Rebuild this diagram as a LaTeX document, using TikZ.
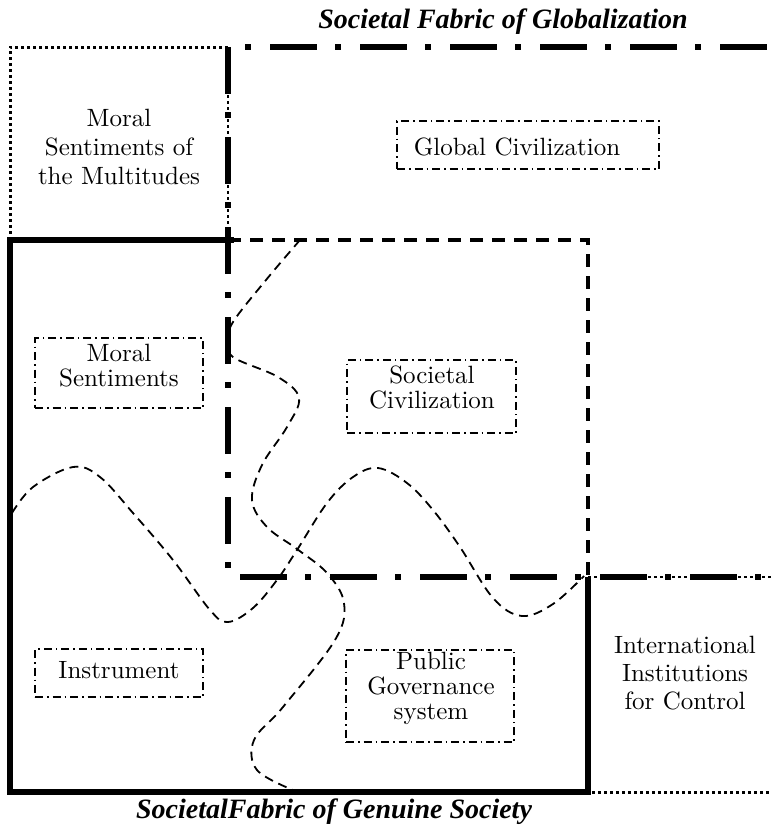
\documentclass[tikz,border=0pt]{standalone}
\usepackage{fontspec}
\newfontfamily\titlefont{Liberation Serif}
\newfontfamily\lblfont{lmroman10-regular}[Extension=.otf]
\begin{document}
\begin{tikzpicture}[x=1pt,y=-1pt,
  lbl/.style={font=\lblfont\fontsize{25}{25}\selectfont, align=center, inner sep=0pt},
  ttl/.style={font=\titlefont\bfseries\itshape\fontsize{28}{30}\selectfont, inner sep=0pt, anchor=base},
  boxdd/.style={draw, line width=1.2pt, dash pattern=on 8pt off 4pt on 1.5pt off 4pt, inner sep=0pt},
  globline/.style={line width=6pt, dash pattern=on 47pt off 18pt on 6pt off 19pt},
  thindash/.style={line width=1.3pt, dash pattern=on 3pt off 3pt},
  solidthick/.style={line width=5.5pt, line join=miter},
  dotline/.style={line width=3pt, dash pattern=on 3pt off 3pt},
  sqdash/.style={line width=4pt, dash pattern=on 13pt off 9pt},
  wave/.style={line width=1.8pt, dash pattern=on 9pt off 6pt}]
\useasboundingbox (0,0) rectangle (771,828);

% named corner points
\coordinate (tl) at (10,47);
\coordinate (gtl) at (228,47);
\coordinate (gtr) at (771,47);
\coordinate (gbl) at (228,577);
\coordinate (gbr) at (771,577);
\coordinate (sqtl) at (228,240);
\coordinate (sqtr) at (588,240);
\coordinate (sqbr) at (588,577);
\coordinate (ml) at (10,240);
\coordinate (mlx) at (234,240);
\coordinate (bl) at (10,792);
\coordinate (br) at (588,792);
\coordinate (brx) at (592,792);
\coordinate (bre) at (771,792);

% wavy dashed curves
\draw[wave] plot[smooth, tension=0.6] coordinates {(300,240) (266,280) (233,322) (229,340) (233,357) (278,377) (299,398) (287,427) (262,465) (252,500) (267,527) (297,549) (327,573) (344,603) (335,640) (283,707) (254,740) (257,770) (293,790)};
\draw[wave] plot[smooth, tension=0.6] coordinates {(12,513) (33,487) (73,467) (100,477) (133,513) (173,560) (210,610) (228,622) (253,608) (277,580) (297,550) (327,503) (353,477) (378,468) (407,483) (433,510) (460,547) (493,598) (522,616) (553,604) (584,576)};

% dotted frame of the multitudes
\draw[dotline] (gtl) -- (tl) -- (ml);
% solid frame of genuine society
\draw[solidthick] (mlx) -- (ml) -- (bl) -- (br) -- (sqbr);
% dashed square
\draw[sqdash] (sqtl) -- (sqtr) -- (sqbr);
% bottom dotted line
\draw[dotline] (brx) -- (bre);
% thin dashed overlays
\draw[thindash] (gtl) -- (sqtl);
\draw[thindash] (sqbr) -- (gbr);
% thick dash-dot frame of globalization
\draw[globline, dash phase=48pt] (gtl) -- (gtr);
\draw[globline] (gtl) -- (gbl);
\draw[globline, dash phase=78pt] (gbl) -- (gbr);

% titles
\node[ttl] (t1) at (503,28) {Societal Fabric of Globalization};
\node[ttl] (t2) at (334,818) {SocietalFabric of Genuine Society};

% labels
\node[lbl, font=\lblfont\fontsize{25}{29}\selectfont] (mult) at (119,147) {Moral\\Sentiments of\\the Multitudes};
\node[boxdd, minimum width=262pt, minimum height=48pt] (gcbox) at (528,145) {};
\node[lbl] (gc) at (517,147) {Global Civilization};
\node[boxdd, minimum width=168pt, minimum height=70pt] (msbox) at (119,373) {};
\node[lbl] (ms) at (119,366) {Moral\\Sentiments};
\node[boxdd, minimum width=169pt, minimum height=73pt] (scbox) at (431.5,396.5) {};
\node[lbl] (sc) at (432,387) {Societal\\Civilization};
\node[boxdd, minimum width=168pt, minimum height=48pt] (insbox) at (119,673) {};
\node[lbl] (ins) at (119,670) {Instrument};
\node[boxdd, minimum width=168pt, minimum height=92pt] (pgbox) at (430,696) {};
\node[lbl] (pg) at (431,688) {Public\\Governance\\system};
\node[lbl, font=\lblfont\fontsize{25}{28}\selectfont] (intl) at (685,673) {International\\Institutions\\for Control};
\end{tikzpicture}
\end{document}
